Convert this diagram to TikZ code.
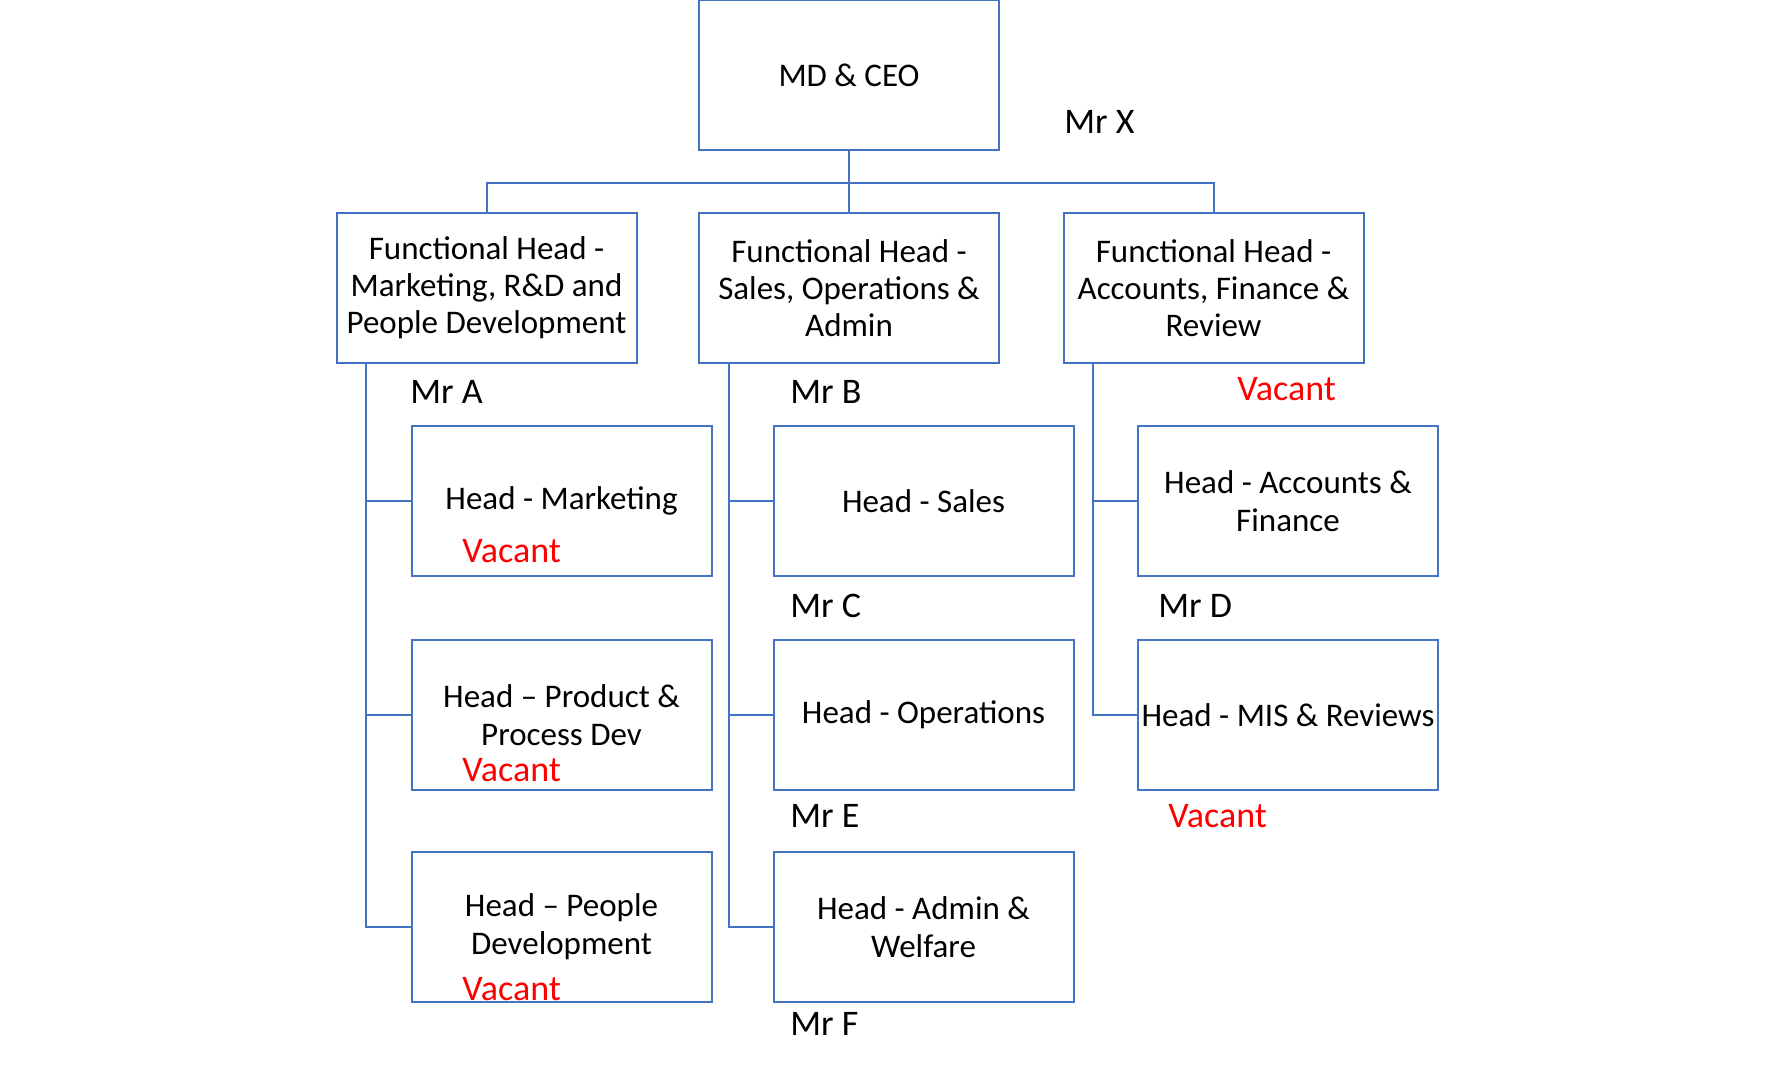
\documentclass[tikz,border=0pt]{standalone}
\usepackage{fontspec}
\setmainfont{Carlito}
\usetikzlibrary{calc}
\definecolor{boxblue}{HTML}{4472C4}
\definecolor{vred}{HTML}{FF0000}
\tikzset{
  orgbox/.style={draw=boxblue, line width=1pt, minimum width=150pt, minimum height=75pt, inner sep=0pt, align=center, font=\fontsize{16.5}{18.5}\selectfont},
  childbox/.style={orgbox, font=\fontsize{16.5}{19}\selectfont},
  link/.style={draw=boxblue, line width=1pt},
  who/.style={anchor=west, inner sep=0pt, font=\fontsize{18}{20}\selectfont},
  vac/.style={who, text=vred}
}
\begin{document}
\begin{tikzpicture}[x=0.5pt,y=-0.5pt]
\useasboundingbox (0,0) rectangle (1770,1068);
% top
\node[orgbox] (ceo) at (849,75.5) {MD \& CEO};
\node[who] (mrx) at (1064,122) {Mr X};
% functional heads
\node[orgbox] (fha) at (486.5,288) {Functional Head -\\Marketing, R\&D and\\People Development};
\node[orgbox] (fhb) at (849,288) {Functional Head -\\Sales, Operations \&\\Admin};
\node[orgbox] (fhc) at (1213.5,288) {Functional Head -\\Accounts, Finance \&\\Review};
\node[who] (mra) at (410,392) {Mr A};
\node[who] (mrb) at (790,392) {Mr B};
\node[vac] (vfc) at (1237,389) {Vacant};
% column A
\node[childbox] (a1) at (561.5,501) {Head - Marketing};
\node[childbox] (a2) at (561.5,715) {Head -- Product \&\\Process Dev};
\node[childbox] (a3) at (561.5,927) {Head -- People\\Development};
\node[vac] (va1) at (462,551) {Vacant};
\node[vac] (va2) at (462,770) {Vacant};
\node[vac] (va3) at (462,989) {Vacant};
% column B
\node[childbox] (b1) at (923.5,501) {Head - Sales};
\node[childbox] (b2) at (923.5,715) {Head - Operations};
\node[childbox] (b3) at (923.5,927) {Head - Admin \&\\Welfare};
\node[who] (mrc) at (790,606) {Mr C};
\node[who] (mre) at (790,816) {Mr E};
\node[who] (mrf) at (790,1024) {Mr F};
% column C
\node[childbox] (c1) at (1288,501) {Head - Accounts \&\\Finance};
\node[childbox, inner sep=0pt] (c2) at (1288,715) {Head - MIS \& Reviews};
\node[who] (mrd) at (1158,606) {Mr D};
\node[vac] (vc2) at (1168,816) {Vacant};
% connectors
\draw[link] (ceo.south) -- (fhb.north);
\draw[link] (ceo.south) -- ++(0,32) -| (fha.north);
\draw[link] (ceo.south) -- ++(0,32) -| (fhc.north);
\draw[link] ([xshift=15pt]fha.south west) |- (a1.west);
\draw[link] ([xshift=15pt]fha.south west) |- (a2.west);
\draw[link] ([xshift=15pt]fha.south west) |- (a3.west);
\draw[link] ([xshift=15.5pt]fhb.south west) |- (b1.west);
\draw[link] ([xshift=15.5pt]fhb.south west) |- (b2.west);
\draw[link] ([xshift=15.5pt]fhb.south west) |- (b3.west);
\draw[link] ([xshift=15pt]fhc.south west) |- (c1.west);
\draw[link] ([xshift=15pt]fhc.south west) |- (c2.west);
\end{tikzpicture}
\end{document}
